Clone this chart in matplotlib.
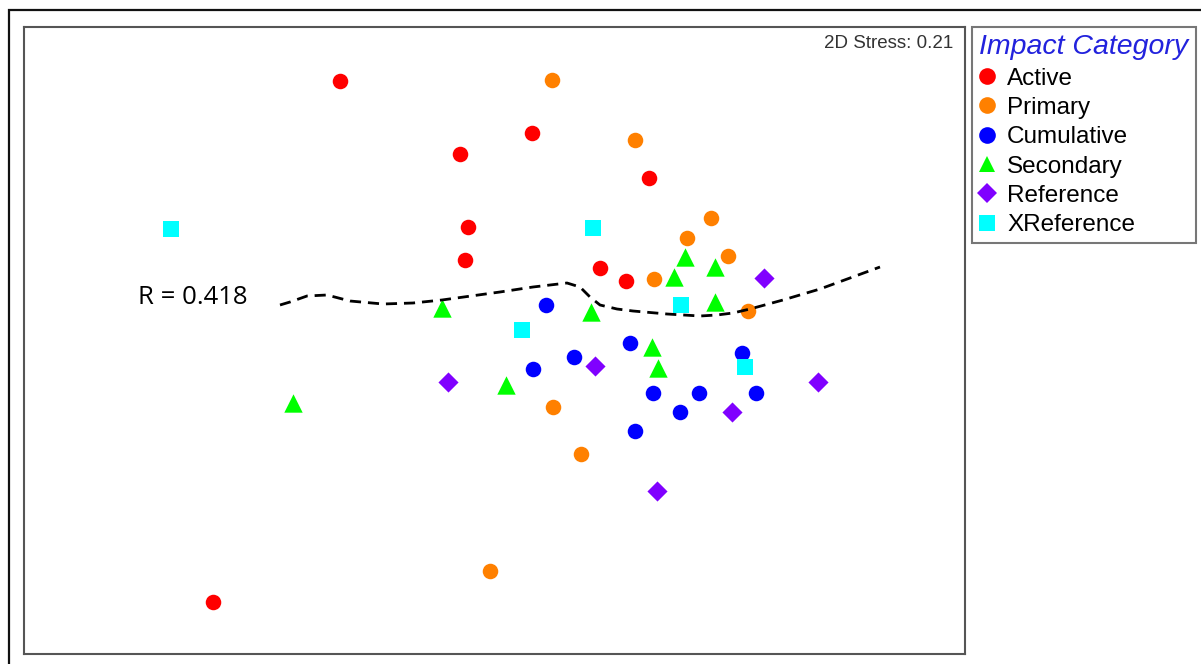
import matplotlib.pyplot as plt
from matplotlib.lines import Line2D
from matplotlib.patches import Rectangle

# NMDS ordination coordinates (arbitrary units, y grows downward like the original)
active_x = [340, 532, 460, 649, 468, 465, 600, 626, 213]
active_y = [81, 133, 154, 178, 227, 260, 268, 281, 602]
primary_x = [552, 635, 711, 687, 728, 654, 748, 553, 581, 490]
primary_y = [80, 140, 218, 238, 256, 279, 311, 407, 454, 571]
cumulative_x = [546, 630, 574, 533, 742, 653, 699, 756, 680, 635]
cumulative_y = [305, 343, 357, 369, 353, 393, 393, 393, 412, 431]
secondary_x = [685, 715, 674, 442, 591, 715, 652, 658, 506, 293]
secondary_y = [257, 267, 277, 308, 312, 302, 347, 368, 385, 403]
reference_x = [764, 448, 595, 818, 732, 657]
reference_y = [278, 382, 366, 382, 412, 491]
xreference_x = [171, 593, 681, 522, 745]
xreference_y = [229, 228, 305, 330, 367]

# separating contour
line_x = [280, 290, 307, 327, 350, 383, 413, 442, 500, 533, 567, 580, 590, 600,
          617, 633, 667, 700, 717, 733, 750, 783, 820, 850, 880]
line_y = [305, 302, 296, 295, 301, 304, 303, 300, 292, 287, 283, 287, 297, 305,
          309, 311, 314, 316, 315, 313, 309, 300, 289, 278, 267]

groups = [
    ('Active', active_x, active_y, 'o', '#ff0000', 125),
    ('Primary', primary_x, primary_y, 'o', '#ff8000', 125),
    ('Cumulative', cumulative_x, cumulative_y, 'o', '#0000ff', 125),
    ('Secondary', secondary_x, secondary_y, '^', '#00ff00', 175),
    ('Reference', reference_x, reference_y, 'D', '#8000ff', 105),
    ('XReference', xreference_x, xreference_y, 's', '#00ffff', 135),
]

fig = plt.figure(figsize=(12.01, 6.64), dpi=100)
W, H = 1201, 664

# outer frame (left/top edges visible)
fig.patches.append(Rectangle((9 / W, -0.1), 1.2, 1 - 10 / H + 0.1,
                             transform=fig.transFigure, fill=False,
                             edgecolor='#111111', linewidth=1.6))

ax = fig.add_axes([24 / W, 1 - 654 / H, (965 - 24) / W, (654 - 27) / H])
ax.set_xlim(24, 965)
ax.set_ylim(654, 27)
ax.set_xticks([])
ax.set_yticks([])
for sp in ax.spines.values():
    sp.set_color('#555555')
    sp.set_linewidth(1.5)

for name, xs, ys, mk, col, s in groups:
    ax.scatter(xs, ys, marker=mk, c=col, s=s, linewidths=0, zorder=3)

ax.plot(line_x, line_y, color='black', linewidth=2, linestyle=(0, (4, 2.5)), zorder=4)

ax.text(953, 44, '2D Stress: 0.21', ha='right', va='center', fontsize=13.5,
        color='#333333', family='Liberation Sans')
ax.text(138, 298, 'R = 0.418', ha='left', va='center', fontsize=18.5,
        color='black', family='Open Sans')

handles = [Line2D([], [], marker=mk, color=col, linestyle='none',
                  markersize=12 if mk != 'D' else 10, markeredgewidth=0)
           for name, xs, ys, mk, col, s in groups]
labels = [g[0] for g in groups]
leg = fig.legend(handles, labels, loc='upper left',
                 bbox_to_anchor=(972 / W, 1 - 27 / H), borderaxespad=0,
                 title='Impact Category', frameon=True, fancybox=False,
                 prop={'family': 'Liberation Sans', 'size': 17.5},
                 handlelength=0.6, handletextpad=0.55, labelspacing=0.3,
                 borderpad=0.3, alignment='left')
leg.get_title().set_color('#2222dd')
leg.get_title().set_fontstyle('italic')
leg.get_title().set_fontsize(20.5)
leg.get_title().set_family('Liberation Sans')
leg.get_frame().set_edgecolor('#555555')
leg.get_frame().set_linewidth(1.5)

fig.savefig('out.png', dpi=100)
